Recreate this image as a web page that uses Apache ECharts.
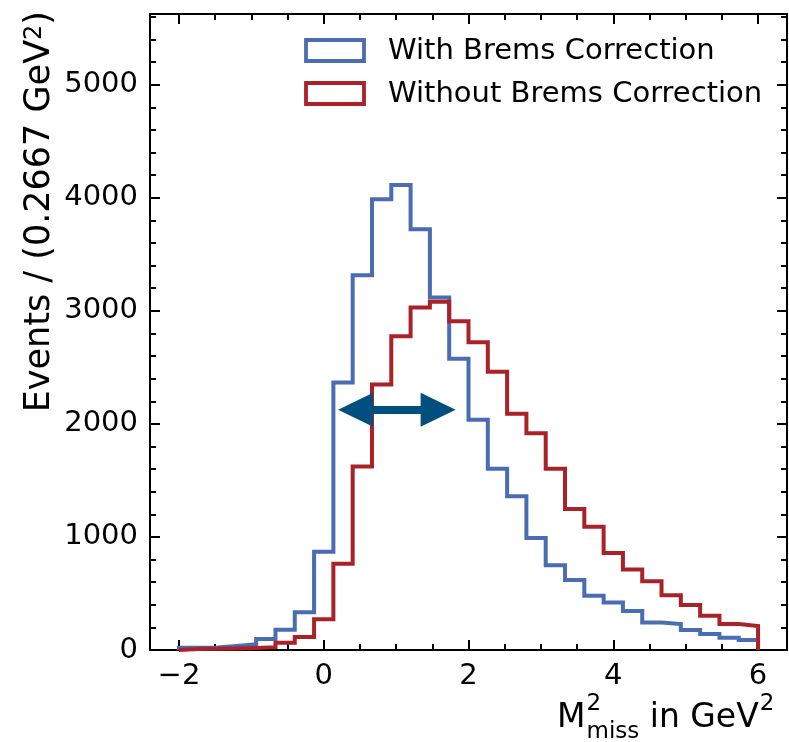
<!DOCTYPE html>
<html>
<head>
<meta charset="utf-8">
<script src="https://cdn.jsdelivr.net/npm/echarts@6/dist/echarts.min.js"></script>
<style>
    html, body { margin: 0; padding: 0; background: #fff; }
    #chart { width: 789px; height: 742px; }
</style>
</head>
<body>
<div id="chart"></div>
<script>
// histogram binning: 30 bins from -2 to 6 GeV^2
const binLow = -2;
const binHigh = 6;
const withBrems = [20, 22, 35, 50, 97, 180, 333, 870, 2366, 3314, 3986, 4113, 3722, 3118, 2575,
    2036, 1604, 1359, 991, 750, 618, 480, 421, 344, 244, 229, 176, 141, 109, 88];
const withoutBrems = [8, 10, 14, 18, 25, 65, 115, 271, 762, 1624, 2348, 2774, 3030, 3080, 2907,
    2722, 2462, 2089, 1918, 1604, 1247, 1091, 859, 712, 609, 485, 397, 303, 229, 212];
const seriesNames = ['With Brems Correction', 'Without Brems Correction'];

const xMajor = [-2, 0, 2, 4, 6];
const xMinor = [-2, -1.5, -1, -0.5, 0, 0.5, 1, 1.5, 2, 2.5, 3, 3.5, 4, 4.5, 5, 5.5, 6];
const yMajor = [0, 1000, 2000, 3000, 4000, 5000];
const yMinor = [0, 200, 400, 600, 800, 1000, 1200, 1400, 1600, 1800, 2000, 2200, 2400, 2600, 2800,
    3000, 3200, 3400, 3600, 3800, 4000, 4200, 4400, 4600, 4800, 5000, 5200, 5400, 5600];

// arrow annotation (data coords of the two head centres)
const arrowFrom = [0.44, 2125];
const arrowTo = [1.58, 2125];

const BLUE = '#4a6cb3';
const RED = '#aa2228';
const ARROW = '#004f7f';
const FONT = 'DejaVu Sans';

function stepPoints(counts) {
    const w = (binHigh - binLow) / counts.length;
    const pts = [[binLow, 0]];
    counts.forEach((c, i) => {
        pts.push([binLow + i * w, c]);
        pts.push([binLow + (i + 1) * w, c]);
    });
    pts.push([binHigh, 0]);
    return pts;
}

// plain numbers with a real minus sign, like matplotlib
const tickText = v => (v < 0 ? '\u2212' + Math.abs(v) : String(v));

function tickAxis(position, values, len, withLabel, withLine, extra) {
    return Object.assign({
        type: 'value',
        position: position,
        axisLine: { show: withLine, onZero: false, lineStyle: { color: '#000', width: 2 } },
        axisTick: { show: true, inside: true, length: len, customValues: values,
            lineStyle: { color: '#000', width: 2 } },
        axisLabel: withLabel
            ? { show: true, customValues: values, formatter: tickText, color: '#000',
                fontSize: 29, fontFamily: FONT, margin: 12 }
            : { show: false },
        splitLine: { show: false }
    }, extra);
}

const xRange = { min: -2.4, max: 6.4 };
const yRange = { min: 0, max: 5625 };

const chart = echarts.init(document.getElementById('chart'));

// axis title pieces (mathtext-like super/subscripts)
const ctx = document.createElement('canvas').getContext('2d');
function textWidth(str, size) {
    ctx.font = size + 'px "' + FONT + '"';
    return ctx.measureText(str).width;
}
const labelSize = 33;
const smallSize = 23;
const fontOf = size => size + 'px "' + FONT + '"';
let cx = 557;
const xTitle = [];
xTitle.push({ type: 'text', x: cx, y: 718, style: { text: 'M', font: fontOf(labelSize), fill: '#000', verticalAlign: 'middle' } });
cx += textWidth('M', labelSize) + 1;
xTitle.push({ type: 'text', x: cx, y: 704, style: { text: '2', font: fontOf(smallSize), fill: '#000', verticalAlign: 'middle' } });
xTitle.push({ type: 'text', x: cx, y: 732, style: { text: 'miss', font: fontOf(smallSize), fill: '#000', verticalAlign: 'middle' } });
cx += textWidth('miss', smallSize) + textWidth(' ', labelSize);
xTitle.push({ type: 'text', x: cx, y: 718, style: { text: 'in GeV', font: fontOf(labelSize), fill: '#000', verticalAlign: 'middle' } });
cx += textWidth('in GeV', labelSize) + 1;
xTitle.push({ type: 'text', x: cx, y: 704, style: { text: '2', font: fontOf(smallSize), fill: '#000', verticalAlign: 'middle' } });

const legendItems = [];
seriesNames.forEach((name, i) => {
    const top = 40 + i * 43;
    legendItems.push({ type: 'rect', shape: { x: 306, y: top, width: 58, height: 21 },
        style: { fill: 'none', stroke: i === 0 ? BLUE : RED, lineWidth: 3.8 } });
    legendItems.push({ type: 'text', x: 388, y: top + 11,
        style: { text: name, font: fontOf(29), fill: '#000', verticalAlign: 'middle' } });
});

chart.setOption({
    animation: false,
    grid: { left: 150, right: 2, top: 14, bottom: 92, containLabel: false },
    xAxis: [
        tickAxis('bottom', xMajor, 10, true, true, xRange),
        tickAxis('bottom', xMinor, 6, false, false, xRange),
        tickAxis('top', xMajor, 10, false, true, xRange),
        tickAxis('top', xMinor, 6, false, false, xRange)
    ],
    yAxis: [
        tickAxis('left', yMajor, 10, true, true, yRange),
        tickAxis('left', yMinor, 6, false, false, yRange),
        tickAxis('right', yMajor, 10, false, true, yRange),
        tickAxis('right', yMinor, 6, false, false, yRange)
    ],
    series: [
        {
            name: seriesNames[0], type: 'line', data: stepPoints(withBrems),
            showSymbol: false, symbol: 'none', color: BLUE,
            lineStyle: { color: BLUE, width: 4, join: 'miter', cap: 'butt' }
        },
        {
            name: seriesNames[1], type: 'line', data: stepPoints(withoutBrems),
            showSymbol: false, symbol: 'none', color: RED,
            lineStyle: { color: RED, width: 4, join: 'miter', cap: 'butt' },
            markLine: {
                silent: true, z: 10, animation: false,
                symbol: ['triangle', 'triangle'], symbolSize: [34, 35],
                lineStyle: { color: ARROW, width: 8, type: 'solid' },
                itemStyle: { color: ARROW },
                label: { show: false },
                emphasis: { disabled: true },
                data: [[{ coord: arrowFrom }, { coord: arrowTo }]]
            }
        }
    ],
    graphic: [
        { type: 'text', x: 40, y: 11, rotation: Math.PI / 2,
          style: { text: 'Events / (0.2667 GeV{sup|2})', font: fontOf(35), fill: '#000',
                   align: 'right', verticalAlign: 'middle',
                   rich: { sup: { fontSize: 24, fontFamily: FONT, lineHeight: 24, verticalAlign: 'top', fill: '#000' } } } }
    ].concat(xTitle, legendItems)
});
</script>
</body>
</html>
